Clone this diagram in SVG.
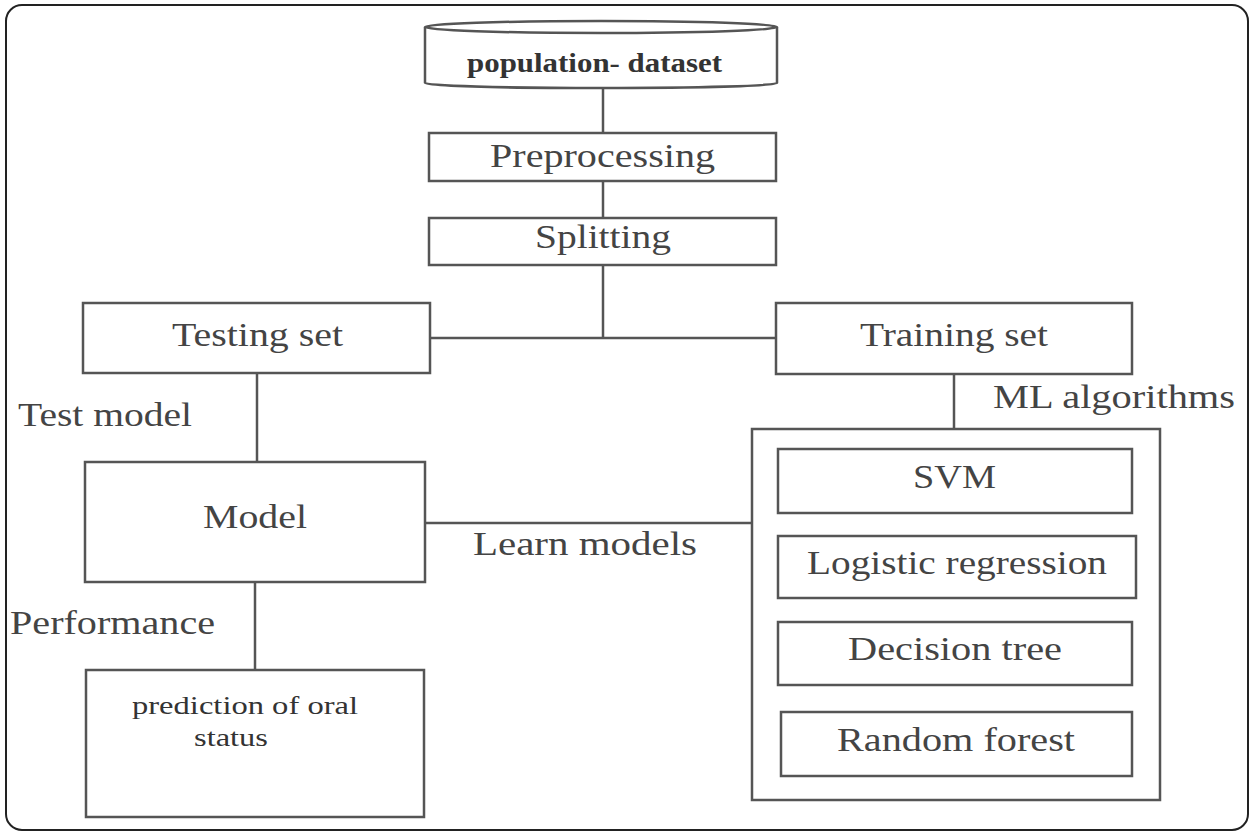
<svg xmlns="http://www.w3.org/2000/svg" width="1253" height="832" viewBox="0 0 1253 832">
<style>
.box{fill:#fff;stroke:#555;stroke-width:2.5}
.ln{fill:none;stroke:#555;stroke-width:2.5}
.t{font-family:"Liberation Serif","Times New Roman",serif;font-size:33px;fill:#444}
.tb{font-family:"Liberation Serif","Times New Roman",serif;font-size:27px;font-weight:bold;fill:#333}
.tp{font-family:"Liberation Serif","Times New Roman",serif;font-size:26px;fill:#333}
</style>
<rect x="6" y="5" width="1242" height="825" rx="16" ry="16" fill="#fff" stroke="#222" stroke-width="2"/>
<g id="connectors">
<line class="ln" x1="603" y1="86" x2="603" y2="133"/>
<line class="ln" x1="603" y1="181" x2="603" y2="218"/>
<line class="ln" x1="603" y1="265" x2="603" y2="338"/>
<line class="ln" x1="430" y1="338" x2="776" y2="338"/>
<line class="ln" x1="257" y1="373" x2="257" y2="462"/>
<line class="ln" x1="255" y1="582" x2="255" y2="670"/>
<line class="ln" x1="954" y1="374" x2="954" y2="429"/>
<line class="ln" x1="425" y1="523" x2="752" y2="523"/>
<text class="t" x="18" y="426" textLength="174" lengthAdjust="spacingAndGlyphs">Test model</text>
<text class="t" x="10" y="634" textLength="205" lengthAdjust="spacingAndGlyphs">Performance</text>
<text class="t" x="993" y="408" textLength="242" lengthAdjust="spacingAndGlyphs">ML algorithms</text>
<text class="t" x="473" y="555" textLength="224" lengthAdjust="spacingAndGlyphs">Learn models</text>
</g>
<g id="dataset">
<path class="box" d="M425,27 L425,83 A176,5 0 0 0 777,83 L777,27"/>
<ellipse class="box" cx="601" cy="27" rx="176" ry="6"/>
<text class="tb" x="467" y="72" textLength="255" lengthAdjust="spacingAndGlyphs">population- dataset</text>
</g>
<g id="preprocessing">
<rect class="box" x="429" y="133" width="347" height="48"/>
<text class="t" x="490" y="167" textLength="225" lengthAdjust="spacingAndGlyphs">Preprocessing</text>
</g>
<g id="splitting">
<rect class="box" x="429" y="218" width="347" height="47"/>
<text class="t" x="535" y="248" textLength="136" lengthAdjust="spacingAndGlyphs">Splitting</text>
</g>
<g id="testing">
<rect class="box" x="83" y="303" width="347" height="70"/>
<text class="t" x="172" y="346" textLength="171" lengthAdjust="spacingAndGlyphs">Testing set</text>
</g>
<g id="training">
<rect class="box" x="776" y="303" width="356" height="71"/>
<text class="t" x="860" y="346" textLength="188" lengthAdjust="spacingAndGlyphs">Training set</text>
</g>
<g id="model">
<rect class="box" x="85" y="462" width="340" height="120"/>
<text class="t" x="203" y="528" textLength="104" lengthAdjust="spacingAndGlyphs">Model</text>
</g>
<g id="prediction">
<rect class="box" x="86" y="670" width="338" height="147"/>
<text class="tp" x="132" y="714" textLength="226" lengthAdjust="spacingAndGlyphs">prediction of oral</text>
<text class="tp" x="194" y="746" textLength="74" lengthAdjust="spacingAndGlyphs">status</text>
</g>
<g id="ml-algorithms">
<rect class="box" x="752" y="429" width="408" height="371"/>
</g>
<g id="svm">
<rect class="box" x="778" y="449" width="354" height="64"/>
<text class="t" x="913" y="488" textLength="83" lengthAdjust="spacingAndGlyphs">SVM</text>
</g>
<g id="logistic">
<rect class="box" x="778" y="536" width="358" height="62"/>
<text class="t" x="807" y="574" textLength="300" lengthAdjust="spacingAndGlyphs">Logistic regression</text>
</g>
<g id="decision-tree">
<rect class="box" x="778" y="622" width="354" height="63"/>
<text class="t" x="848" y="660" textLength="214" lengthAdjust="spacingAndGlyphs">Decision tree</text>
</g>
<g id="random-forest">
<rect class="box" x="781" y="712" width="351" height="64"/>
<text class="t" x="837" y="751" textLength="238" lengthAdjust="spacingAndGlyphs">Random forest</text>
</g>
</svg>
